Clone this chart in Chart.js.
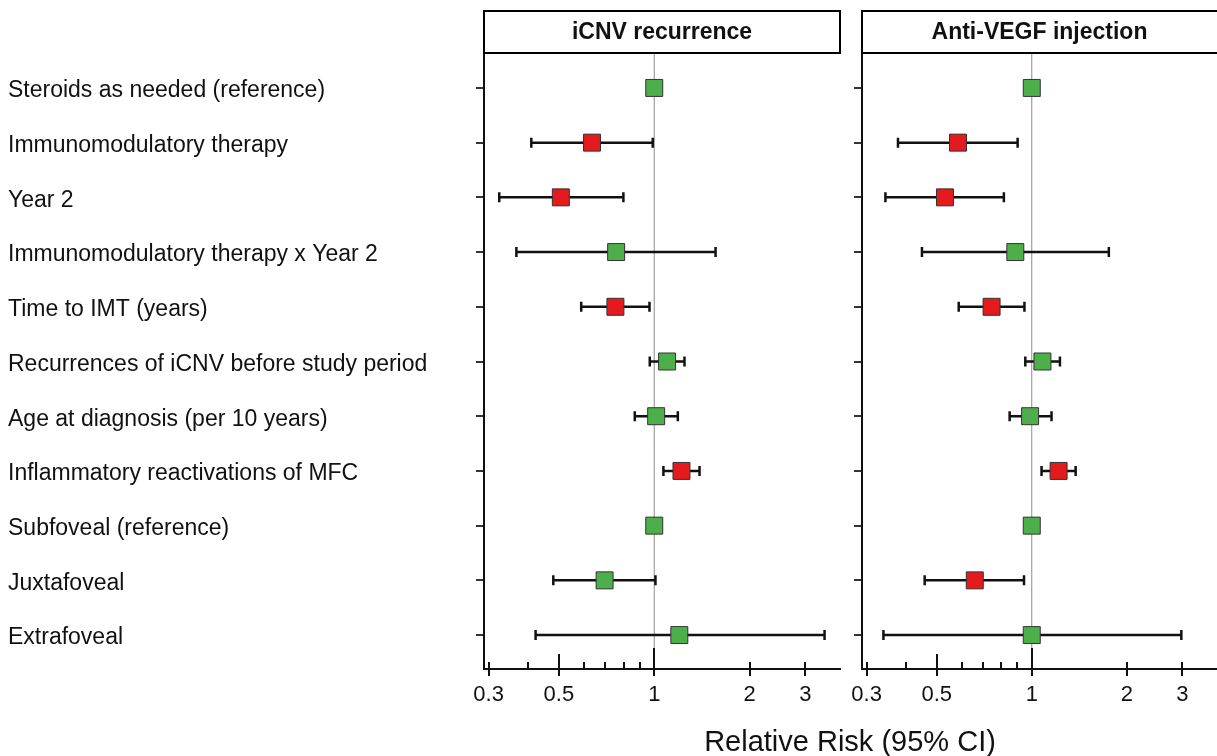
<!DOCTYPE html>
<html lang="en">
<head>
  <meta charset="UTF-8">
  <title>Relative Risk (95% CI)</title>
  <style>
    * {
      margin: 0;
      padding: 0;
      box-sizing: border-box;
    }

    body {
      width: 1217px;
      height: 756px;
      overflow: hidden;
      background: #fff;
      position: relative;
      font-family: Arial, "Liberation Sans", sans-serif;
    }

    .panel {
      position: absolute;
      top: 0;
      height: 756px;
    }

    #leftWrap { left: 0; width: 845px; }
    #rightWrap { left: 845px; width: 372px; }

    #xTitle {
      position: absolute;
      left: 700px;
      width: 300px;
      top: 727px;
      text-align: center;
      font-size: 29px;
      line-height: 29px;
      color: #111;
    }
  </style>
  <script src="https://cdn.jsdelivr.net/npm/chart.js"></script>
</head>
<body>
  <div class="panel" id="leftWrap"><canvas id="icnvChart"></canvas></div>
  <div class="panel" id="rightWrap"><canvas id="vegfChart"></canvas></div>
  <div id="xTitle">Relative Risk (95% CI)</div>

  <script>
    const categories = [
      'Steroids as needed (reference)',
      'Immunomodulatory therapy',
      'Year 2',
      'Immunomodulatory therapy x Year 2',
      'Time to IMT (years)',
      'Recurrences of iCNV before study period',
      'Age at diagnosis (per 10 years)',
      'Inflammatory reactivations of MFC',
      'Subfoveal (reference)',
      'Juxtafoveal',
      'Extrafoveal'
    ];

    // iCNV recurrence panel
    const icnvRR = [1, 0.636, 0.507, 0.758, 0.754, 1.098, 1.014, 1.219, 1, 0.697, 1.20];
    const icnvLo = [null, 0.409, 0.324, 0.367, 0.588, 0.968, 0.868, 1.069, null, 0.48, 0.422];
    const icnvHi = [null, 0.989, 0.799, 1.562, 0.966, 1.246, 1.187, 1.39, null, 1.009, 3.45];

    // Anti-VEGF injection panel
    const vegfRR = [1, 0.584, 0.531, 0.887, 0.746, 1.081, 0.988, 1.216, 1, 0.66, 1.0];
    const vegfLo = [null, 0.377, 0.344, 0.449, 0.587, 0.954, 0.851, 1.074, null, 0.458, 0.339];
    const vegfHi = [null, 0.902, 0.816, 1.754, 0.948, 1.228, 1.155, 1.377, null, 0.945, 2.976];

    const tickValues = [0.3, 0.4, 0.5, 0.6, 0.7, 0.8, 0.9, 1, 2, 3];
    const tickLabels = [0.3, 0.5, 1, 2, 3];

    const GREEN = '#4daf4a';
    const RED = '#e41a1c';

    Chart.defaults.font.family = 'Arial, "Liberation Sans", sans-serif';
    Chart.defaults.color = '#111';

    // reference line, CI whiskers, axis tick marks and the strip header
    const forestPlugin = {
      id: 'forest',
      beforeDatasetsDraw(chart, args, opts) {
        const { ctx, chartArea: a, scales: { x, y } } = chart;
        ctx.save();
        const x1 = x.getPixelForValue(1);
        ctx.strokeStyle = '#8c8c8c';
        ctx.lineWidth = 1;
        ctx.beginPath();
        ctx.moveTo(x1, a.top);
        ctx.lineTo(x1, a.bottom);
        ctx.stroke();

        ctx.strokeStyle = '#111';
        ctx.lineWidth = 2.5;
        opts.lo.forEach((lo, i) => {
          const hi = opts.hi[i];
          if (lo == null) return;
          const py = y.getPixelForValue(i);
          const pl = x.getPixelForValue(lo);
          const ph = x.getPixelForValue(hi);
          ctx.beginPath();
          ctx.moveTo(pl, py); ctx.lineTo(ph, py);
          ctx.moveTo(pl, py - 5); ctx.lineTo(pl, py + 5);
          ctx.moveTo(ph, py - 5); ctx.lineTo(ph, py + 5);
          ctx.stroke();
        });
        ctx.restore();
      },
      afterDraw(chart, args, opts) {
        const { ctx, chartArea: a, scales: { x } } = chart;
        ctx.save();
        ctx.strokeStyle = '#111';
        ctx.lineWidth = 2;
        tickValues.forEach(v => {
          const px = Math.round(x.getPixelForValue(v));
          const up = v === 1 ? 21 : (v === 0.5 ? 15 : 7);
          const down = tickLabels.includes(v) ? 7 : 0;
          ctx.beginPath();
          ctx.moveTo(px, a.bottom - up);
          ctx.lineTo(px, a.bottom + down);
          ctx.stroke();
        });

        const w = a.right - a.left + (opts.openRight ? 4 : 0);
        ctx.fillStyle = '#fff';
        ctx.fillRect(a.left, 10, w, 43);
        ctx.strokeStyle = '#000';
        ctx.strokeRect(a.left, 11, w, 42);
        ctx.fillStyle = '#111';
        ctx.font = 'bold 23px Arial, "Liberation Sans", sans-serif';
        ctx.textAlign = 'center';
        ctx.textBaseline = 'middle';
        ctx.fillText(opts.title, (a.left + a.right) / 2, 33);
        ctx.restore();
      }
    };

    function makeChart(id, rr, lo, hi, title, showLabels) {
      const ctx = document.getElementById(id).getContext('2d');
      return new Chart(ctx, {
        type: 'scatter',
        data: {
          datasets: [{
            data: rr.map((v, i) => ({ x: v, y: i })),
            pointStyle: 'rect',
            pointRadius: 12,
            pointHoverRadius: 12,
            backgroundColor: rr.map((v, i) => (hi[i] != null && (hi[i] < 1 || lo[i] > 1)) ? RED : GREEN),
            borderColor: '#333',
            borderWidth: 1,
            showLine: false,
            clip: false
          }]
        },
        options: {
          responsive: true,
          maintainAspectRatio: false,
          animation: false,
          layout: {
            autoPadding: false,
            padding: showLabels ? { left: 8, top: 54, right: 5, bottom: 0 } : { left: 0, top: 54, right: 0, bottom: 0 }
          },
          plugins: {
            legend: { display: false },
            tooltip: { enabled: false },
            forest: { lo: lo, hi: hi, title: title, openRight: !showLabels }
          },
          scales: {
            x: {
              type: 'logarithmic',
              min: 0.29,
              max: 3.86,
              afterBuildTicks: s => { s.ticks = tickValues.map(v => ({ value: v })); },
              afterFit: s => {
                s.height = 87;
                s.paddingLeft = 0;
                s.paddingRight = 0;
              },
              grid: { display: true, drawOnChartArea: false, drawTicks: true, tickLength: 13, color: 'rgba(0,0,0,0)' },
              border: { display: true, color: '#111', width: 2 },
              ticks: {
                autoSkip: false,
                maxRotation: 0,
                padding: 0,
                font: { size: 22 },
                color: '#111',
                callback: v => tickLabels.includes(v) ? String(v) : ''
              }
            },
            y: {
              type: 'linear',
              reverse: true,
              min: -0.62,
              max: 10.62,
              afterBuildTicks: s => { s.ticks = categories.map((c, i) => ({ value: i })); },
              afterFit: s => { s.width = showLabels ? 476 : 17; },
              grid: { display: true, drawOnChartArea: false, drawTicks: true, tickLength: 8, color: '#333', lineWidth: 2 },
              border: { display: true, color: '#111', width: 2 },
              ticks: {
                display: showLabels,
                crossAlign: 'far',
                padding: 0,
                labelOffset: 3,
                autoSkip: false,
                font: { size: 23 },
                color: '#111',
                callback: v => categories[v]
              }
            }
          }
        },
        plugins: [forestPlugin]
      });
    }

    makeChart('icnvChart', icnvRR, icnvLo, icnvHi, 'iCNV recurrence', true);
    makeChart('vegfChart', vegfRR, vegfLo, vegfHi, 'Anti-VEGF injection', false);
  </script>
</body>
</html>
